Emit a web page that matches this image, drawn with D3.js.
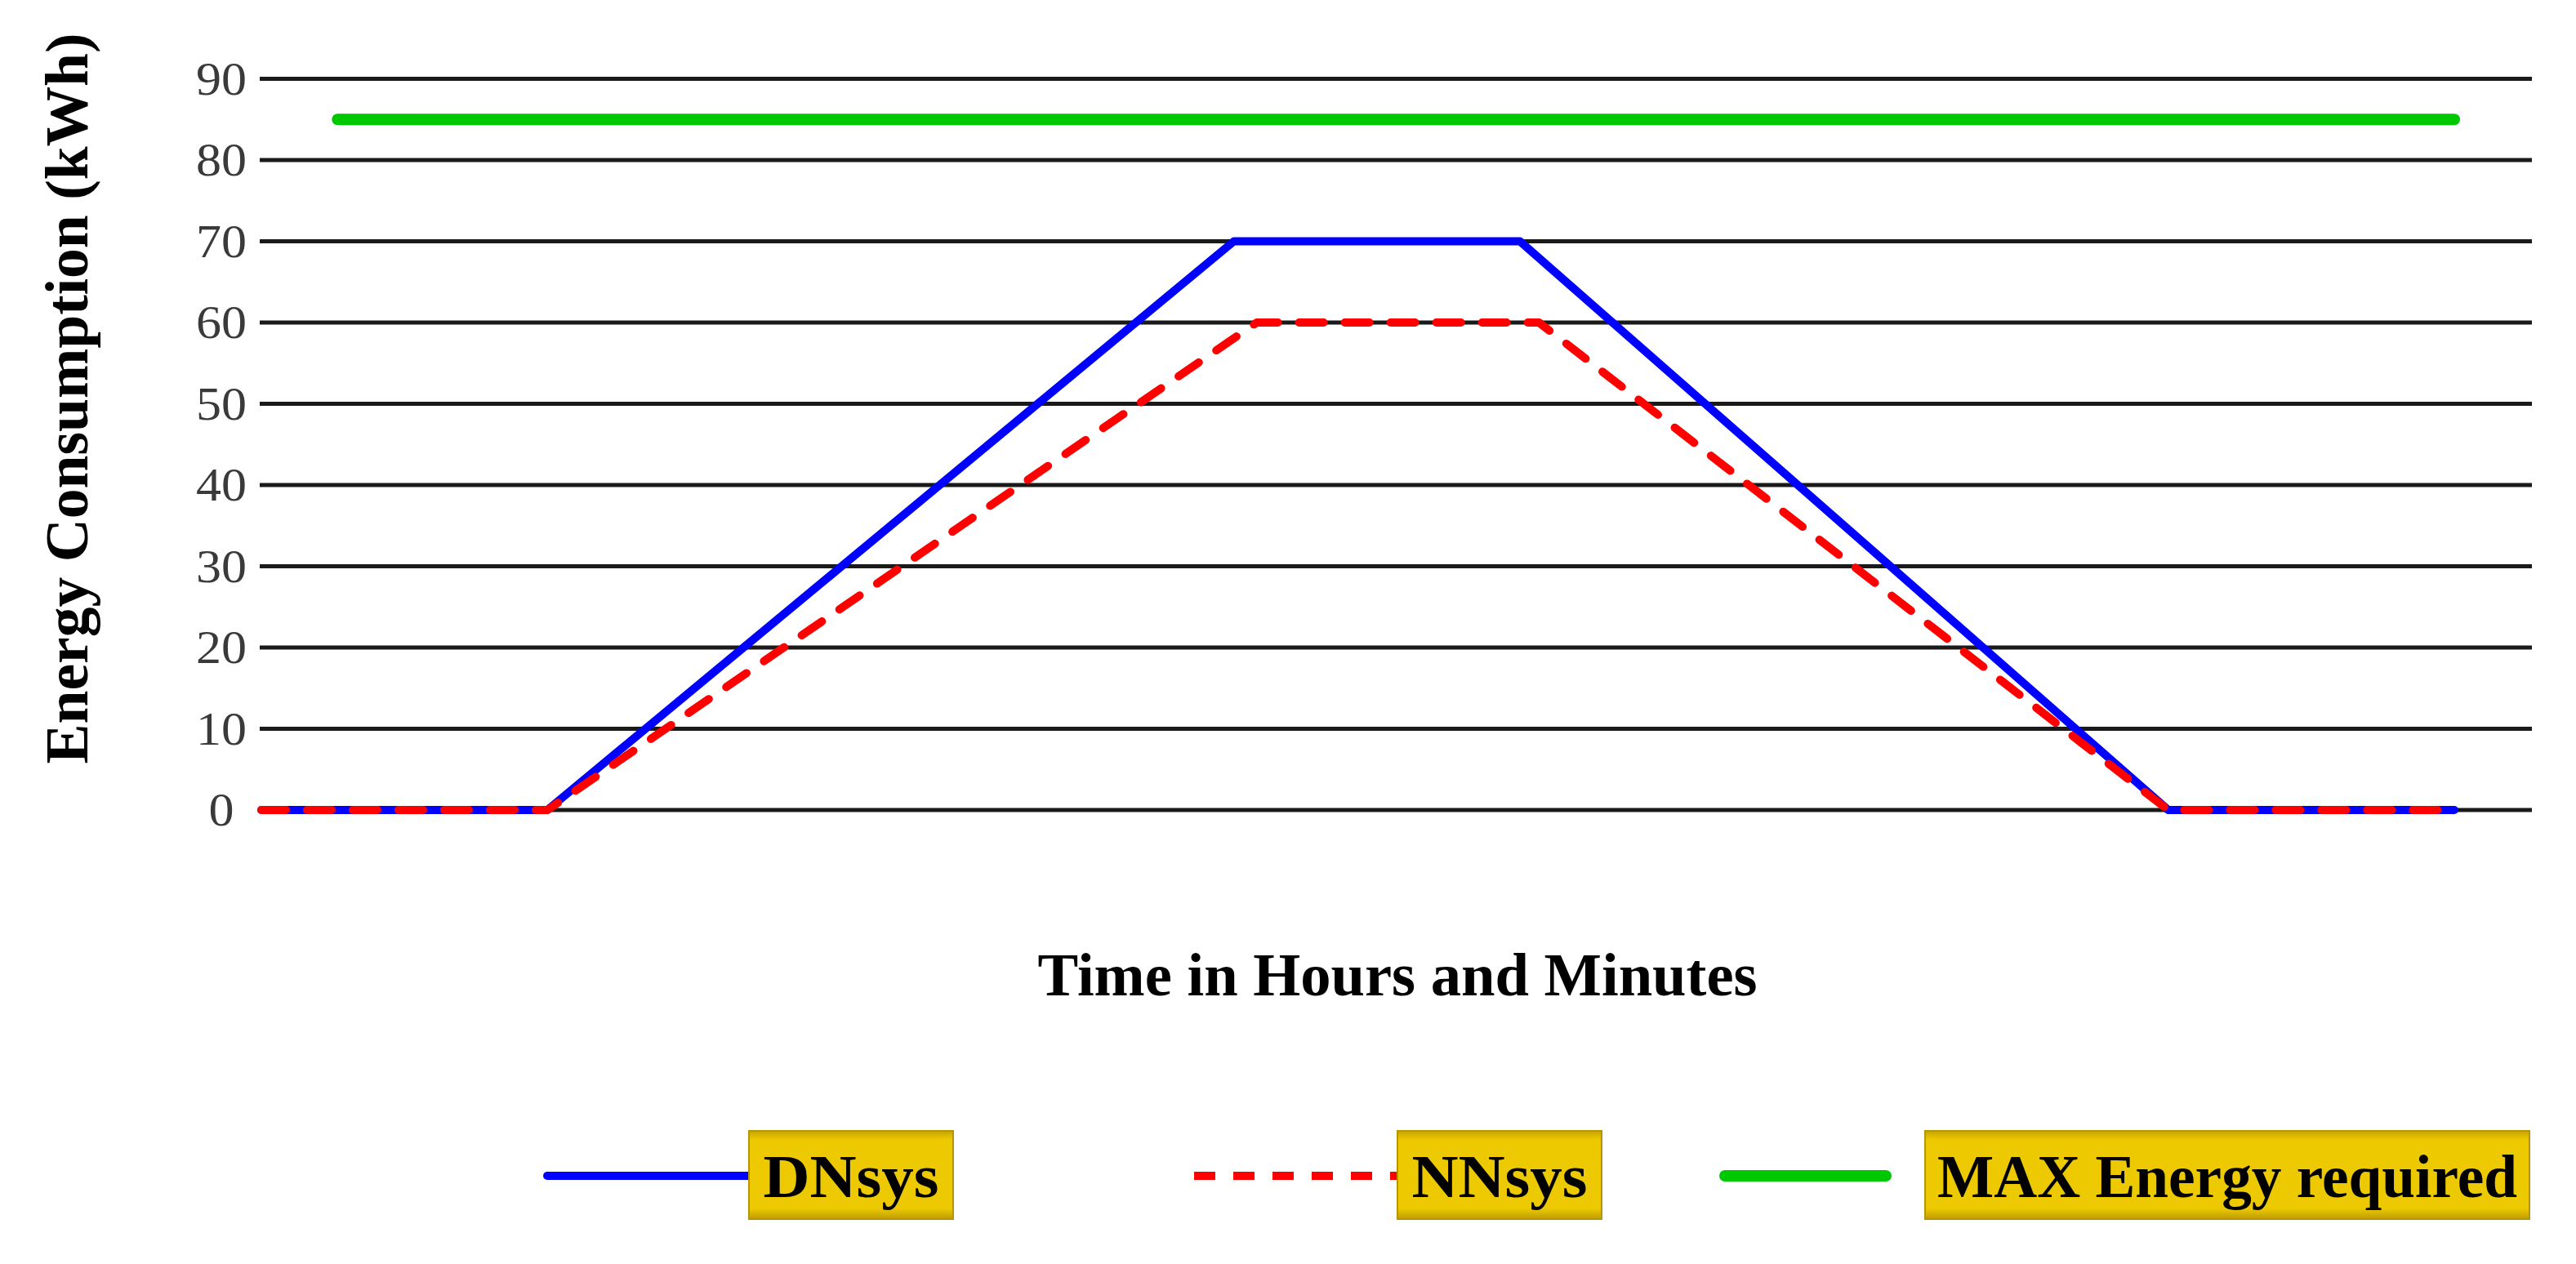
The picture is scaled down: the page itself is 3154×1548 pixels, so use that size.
<!DOCTYPE html>
<html>
<head>
<meta charset="utf-8">
<script src="https://cdn.jsdelivr.net/npm/d3@7"></script>
<style>
  html, body { margin: 0; padding: 0; background: #fff; }
  svg { display: block; }
  text { font-family: "Liberation Serif", "Times New Roman", serif; }
</style>
</head>
<body>
<svg id="canvas"></svg>
<script>
// time in minutes along the (unlabelled) x axis
const dnTime = [0, 75, 255, 330, 500, 575]
const dnValues = [0, 0, 70, 70, 0, 0]
const nnTime = [0, 75, 261, 335, 500, 575]
const nnValues = [0, 0, 60, 60, 0, 0]
const maxTime = [20, 575]
const maxValues = [85, 85]
const yTicks = [0, 10, 20, 30, 40, 50, 60, 70, 80, 90]
const seriesNames = ["DNsys", "NNsys", "MAX Energy required"]

const width = 3154
const height = 1548

const svg = d3.select("#canvas")
  .attr("width", width)
  .attr("height", height)

const x = d3.scaleLinear().domain([0, 575]).range([320, 3005])
const y = d3.scaleLinear().domain([0, 90]).range([992, 96.5])

// horizontal grid lines
svg.append("g")
  .attr("class", "grid")
  .selectAll("line")
  .data(yTicks)
  .enter().append("line")
  .attr("x1", 318)
  .attr("x2", 3100)
  .attr("y1", d => y(d))
  .attr("y2", d => y(d))
  .attr("stroke", "#1a1a1a")
  .attr("stroke-width", 5)

// tick labels (centred like the original)
svg.append("g")
  .selectAll("text")
  .data(yTicks)
  .enter().append("text")
  .attr("x", 271)
  .attr("y", d => y(d) + 19)
  .attr("text-anchor", "middle")
  .attr("font-size", 57)
  .attr("fill", "#3a3a3a")
  .attr("textLength", d => String(d).length * 31)
  .attr("lengthAdjust", "spacingAndGlyphs")
  .text(d => d)

const line = d3.line().x(d => x(d[0])).y(d => y(d[1]))

const series = [
  { name: seriesNames[2], pts: d3.zip(maxTime, maxValues), color: "#00c800", w: 14, dash: null },
  { name: seriesNames[0], pts: d3.zip(dnTime, dnValues), color: "#0000ff", w: 10, dash: null },
  { name: seriesNames[1], pts: d3.zip(nnTime, nnValues), color: "#ff0000", w: 10, dash: "30,26" }
]

svg.append("g")
  .attr("class", "lines")
  .selectAll("path")
  .data(series)
  .enter().append("path")
  .attr("d", d => line(d.pts))
  .attr("fill", "none")
  .attr("stroke", d => d.color)
  .attr("stroke-width", d => d.w)
  .attr("stroke-linejoin", "round")
  .attr("stroke-linecap", "round")
  .attr("stroke-dasharray", d => d.dash)

// axis titles
svg.append("text")
  .attr("transform", "translate(107,488) rotate(-90)")
  .attr("text-anchor", "middle")
  .attr("font-size", 74)
  .attr("font-weight", "bold")
  .attr("textLength", 895)
  .attr("lengthAdjust", "spacingAndGlyphs")
  .text("Energy Consumption (kWh)")

svg.append("text")
  .attr("x", 1711)
  .attr("y", 1219)
  .attr("text-anchor", "middle")
  .attr("font-size", 74)
  .attr("font-weight", "bold")
  .attr("textLength", 881)
  .attr("lengthAdjust", "spacingAndGlyphs")
  .text("Time in Hours and Minutes")

// legend
const defs = svg.append("defs")
const grad = defs.append("linearGradient")
  .attr("id", "gold")
  .attr("x1", 0).attr("y1", 0).attr("x2", 0).attr("y2", 1)
grad.append("stop").attr("offset", "0%").attr("stop-color", "#c8a300")
grad.append("stop").attr("offset", "10%").attr("stop-color", "#ecc900")
grad.append("stop").attr("offset", "88%").attr("stop-color", "#ecc900")
grad.append("stop").attr("offset", "100%").attr("stop-color", "#c09c00")

const legendItems = [
  { name: seriesNames[0], color: "#0000ff", w: 10, dash: null, lx1: 670, lx2: 917, bx: 917, bw: 250, tw: 215 },
  { name: seriesNames[1], color: "#ff0000", w: 10, dash: "26,22", lx1: 1462, lx2: 1711, bx: 1711, bw: 250, tw: 215 },
  { name: seriesNames[2], color: "#00c800", w: 14, dash: null, lx1: 2112, lx2: 2309, bx: 2357, bw: 740, tw: 710 }
]

const legend = svg.append("g").attr("class", "legend")
const ly = 1440

legend.selectAll("line")
  .data(legendItems)
  .enter().append("line")
  .attr("x1", d => d.lx1)
  .attr("x2", d => d.lx2)
  .attr("y1", ly)
  .attr("y2", ly)
  .attr("stroke", d => d.color)
  .attr("stroke-width", d => d.w)
  .attr("stroke-linecap", d => d.dash ? "butt" : "round")
  .attr("stroke-dasharray", d => d.dash)

legend.selectAll("rect")
  .data(legendItems)
  .enter().append("rect")
  .attr("x", d => d.bx)
  .attr("y", 1385)
  .attr("width", d => d.bw)
  .attr("height", 108)
  .attr("fill", "url(#gold)")
  .attr("stroke", "#b89500")
  .attr("stroke-width", 2)

legend.selectAll("text")
  .data(legendItems)
  .enter().append("text")
  .attr("x", d => d.bx + d.bw / 2)
  .attr("y", 1466)
  .attr("text-anchor", "middle")
  .attr("font-size", 74)
  .attr("font-weight", "bold")
  .attr("fill", "#000")
  .attr("textLength", d => d.tw)
  .attr("lengthAdjust", "spacingAndGlyphs")
  .text(d => d.name)
</script>
</body>
</html>
